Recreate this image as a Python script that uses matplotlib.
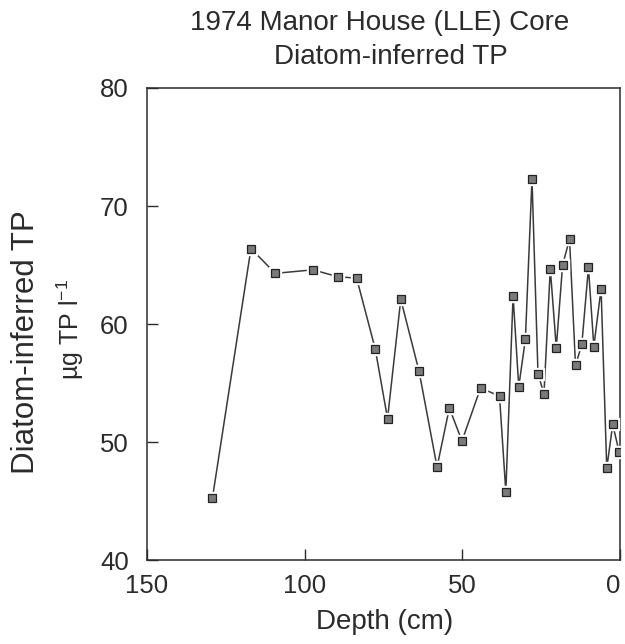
import matplotlib.pyplot as plt
import numpy as np

plt.rcParams['font.family'] = ['Liberation Sans', 'DejaVu Sans']
plt.rcParams['mathtext.fontset'] = 'custom'
plt.rcParams['mathtext.rm'] = 'Liberation Sans'

# data (depth in cm, diatom-inferred TP in ug/l)
depth = [129.2, 117.0, 109.3, 97.3, 89.3, 83.5, 77.6, 73.7, 69.5, 63.7,
         58.0, 54.1, 50.1, 44.2, 38.2, 36.2, 33.9, 32.1, 30.0, 27.9,
         26.0, 24.1, 22.1, 20.2, 18.2, 16.0, 14.1, 12.1, 10.0, 8.3,
         6.0, 4.2, 2.3, 0.3]
tp = [45.3, 66.4, 64.3, 64.6, 64.0, 63.9, 57.9, 52.0, 62.1, 56.0,
      47.9, 52.9, 50.1, 54.6, 53.9, 45.8, 62.4, 54.7, 58.7, 72.3,
      55.8, 54.1, 64.7, 58.0, 65.0, 67.2, 56.5, 58.3, 64.8, 58.1,
      63.0, 47.8, 51.5, 49.2]

xticks = [150, 100, 50, 0]
yticks = [40, 50, 60, 70, 80]

ink = '#2b2b2b'

fig = plt.figure(figsize=(6.25, 6.44), dpi=100)
ax = fig.add_axes([0.235, 0.130, 0.757, 0.7334])

ax.plot(depth, tp, '-', color='#3a3a3a', lw=1.1, zorder=2)
# white halo so the line stops short of each box
ax.plot(depth, tp, 's', ms=8, color='white', mec='white', zorder=3)
ax.plot(depth, tp, 's', ms=5.5, mfc='#7a7a7a', mec='#222222', mew=0.9, zorder=4)

ax.set_xlim(150, 0)
ax.set_ylim(40, 80)
ax.set_xticks(xticks)
ax.set_yticks(yticks)
ax.tick_params(direction='in', length=8, width=1, colors=ink,
               labelsize=18.5, labelcolor=ink)
ax.tick_params(axis='x', pad=10)
ax.tick_params(axis='y', pad=13)
ax.get_xticklabels()[-1].set_ha('right')
for s in ax.spines.values():
    s.set_color(ink)
    s.set_linewidth(1.1)

fig.text(0.616, 0.034, 'Depth (cm)', fontsize=20, color=ink,
         ha='center', va='center')

fig.text(0.042, 0.469, 'Diatom-inferred TP', rotation=90, fontsize=22.5,
         color=ink, ha='center', va='center')
fig.text(0.113, 0.488, 'µg TP l$^{-1}$', rotation=90, fontsize=18,
         color=ink, ha='center', va='center')

fig.text(0.608, 0.964, '1974 Manor House (LLE) Core', fontsize=20,
         color=ink, ha='center', va='center')
fig.text(0.626, 0.911, 'Diatom-inferred TP', fontsize=20,
         color=ink, ha='center', va='center')

fig.savefig('out.png', dpi=100, facecolor='white')
